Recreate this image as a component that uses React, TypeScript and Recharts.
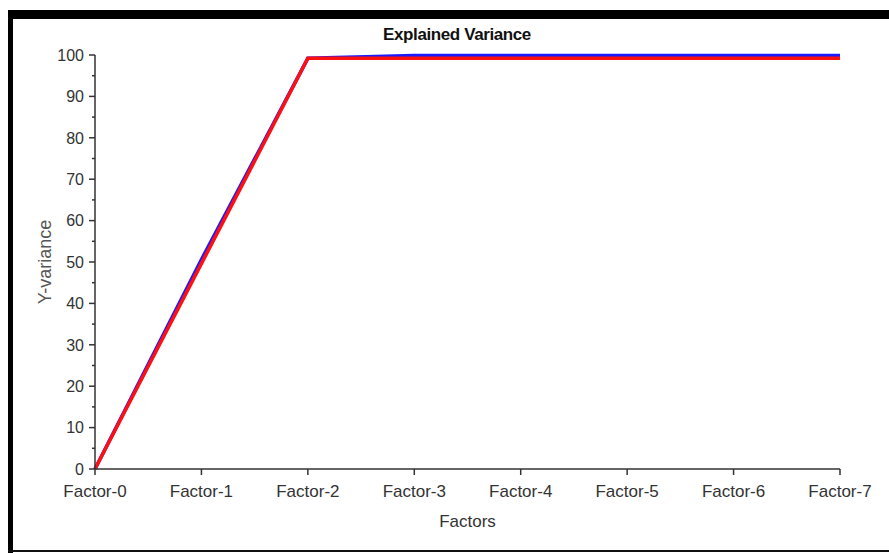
import { LineChart, Line, XAxis, YAxis } from "recharts";

const factors = [
  "Factor-0",
  "Factor-1",
  "Factor-2",
  "Factor-3",
  "Factor-4",
  "Factor-5",
  "Factor-6",
  "Factor-7",
];
const blueValues = [0, 50.6, 99.2, 99.9, 99.9, 99.9, 99.9, 99.9];
const redValues = [0, 49.6, 99.2, 99.2, 99.2, 99.2, 99.2, 99.2];
// labelled every 10, small tick marks in between every 5
const yTicks = [0, 5, 10, 15, 20, 25, 30, 35, 40, 45, 50, 55, 60, 65, 70, 75, 80, 85, 90, 95, 100];

const data = factors.map((name, i) => ({
  name,
  blue: blueValues[i],
  red: redValues[i],
}));

const font = "'Liberation Sans', Arial, sans-serif";
const textColor = "#333";

function YTick(props: any) {
  const { x, y, payload } = props;
  const major = payload.value % 10 === 0;
  return (
    <g>
      <line x1={x} x2={x - (major ? 6 : 3)} y1={y} y2={y} stroke="#333" strokeWidth={1.5} />
      {major && (
        <text
          x={x - 11}
          y={y}
          dy="0.36em"
          textAnchor="end"
          fill={textColor}
          fontSize={16}
          fontFamily={font}
        >
          {payload.value}
        </text>
      )}
    </g>
  );
}

export default function App() {
  return (
    <div
      style={{
        position: "absolute",
        left: 0,
        top: 0,
        width: 889,
        height: 553,
        background: "#fff",
        fontFamily: font,
      }}
    >
      <LineChart
        width={889}
        height={553}
        data={data}
        margin={{ top: 55, right: 49, bottom: 0, left: 0 }}
      >
        <XAxis
          dataKey="name"
          height={84}
          stroke="#333"
          strokeWidth={1.5}
          tickSize={6}
          tickMargin={10}
          tick={{ fill: textColor, fontSize: 17, fontFamily: font }}
          interval={0}
          label={{
            value: "Factors",
            position: "insideBottom",
            offset: 26,
            fill: textColor,
            fontSize: 17,
            fontFamily: font,
          }}
        />
        <YAxis
          domain={[0, 100]}
          ticks={yTicks}
          width={95}
          stroke="#333"
          strokeWidth={1.5}
          tickLine={false}
          tickSize={0}
          tickMargin={0}
          interval={0}
          tick={<YTick />}
          label={{
            value: "Y-variance",
            angle: -90,
            position: "insideLeft",
            offset: 45,
            fill: "#555",
            fontSize: 18,
            fontFamily: font,
            style: { textAnchor: "middle" },
          }}
        />
        <Line
          dataKey="blue"
          stroke="#1a1aff"
          strokeWidth={3.5}
          dot={false}
          isAnimationActive={false}
        />
        <Line
          dataKey="red"
          stroke="#ff1010"
          strokeWidth={3.5}
          dot={false}
          isAnimationActive={false}
        />
      </LineChart>
      <svg
        width={889}
        height={553}
        style={{ position: "absolute", left: 0, top: 0, pointerEvents: "none" }}
      >
        <rect x={8} y={10} width={881} height={9} fill="#000" />
        <rect x={8} y={10} width={5} height={543} fill="#000" />
        <rect x={8} y={550} width={881} height={2} fill="#111" />
        <text
          x={457}
          y={40}
          textAnchor="middle"
          fontFamily={font}
          fontWeight="bold"
          fontSize={17}
          letterSpacing={-0.4}
          fill="#111"
        >
          Explained Variance
        </text>
      </svg>
    </div>
  );
}
